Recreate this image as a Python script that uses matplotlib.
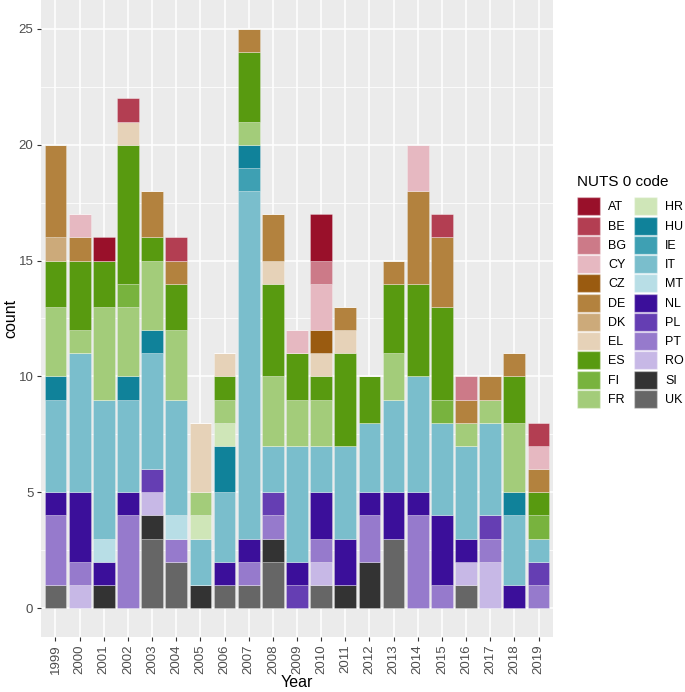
import numpy as np
import matplotlib
matplotlib.use("Agg")
from matplotlib import pyplot as plt
from matplotlib.patches import Patch

plt.rcParams["font.family"] = ["Liberation Sans", "DejaVu Sans"]

years = [str(y) for y in range(1999, 2020)]

# country codes, legend order (first is drawn on top of the stack)
codes = ["AT", "BE", "BG", "CY", "CZ", "DE", "DK", "EL", "ES", "FI", "FR",
         "HR", "HU", "IE", "IT", "MT", "NL", "PL", "PT", "RO", "SI", "UK"]
colors = ["#99102A", "#B33E52", "#CC7A88", "#E6B8C1", "#9A5B10", "#B3823E",
          "#CCAA7A", "#E6D2B8", "#589A10", "#78B33E", "#A3CC7A", "#CFE6B8",
          "#10829A", "#3EA0B3", "#7ABECC", "#B8DEE6", "#3B0F9A", "#653EB3",
          "#967ACC", "#C7B8E6", "#333333", "#666666"]

# counts per year, one list per code (1999 ... 2019)
AT = [0, 0, 1, 0, 0, 0, 0, 0, 0, 0, 0, 2, 0, 0, 0, 0, 0, 0, 0, 0, 0]
BE = [0, 0, 0, 1, 0, 1, 0, 0, 0, 0, 0, 0, 0, 0, 0, 0, 1, 0, 0, 0, 1]
BG = [0, 0, 0, 0, 0, 0, 0, 0, 0, 0, 0, 1, 0, 0, 0, 0, 0, 1, 0, 0, 0]
CY = [0, 1, 0, 0, 0, 0, 0, 0, 0, 0, 1, 2, 0, 0, 0, 2, 0, 0, 0, 0, 1]
CZ = [0, 0, 0, 0, 0, 0, 0, 0, 0, 0, 0, 1, 0, 0, 0, 0, 0, 0, 0, 0, 0]
DE = [4, 1, 0, 0, 2, 1, 0, 0, 1, 2, 0, 0, 1, 0, 1, 4, 3, 1, 1, 1, 1]
DK = [1, 0, 0, 0, 0, 0, 0, 0, 0, 0, 0, 0, 0, 0, 0, 0, 0, 0, 0, 0, 0]
EL = [0, 0, 0, 1, 0, 0, 3, 1, 0, 1, 0, 1, 1, 0, 0, 0, 0, 0, 0, 0, 0]
ES = [2, 3, 2, 6, 1, 2, 0, 1, 3, 4, 2, 1, 4, 2, 3, 4, 4, 0, 0, 2, 1]
FI = [0, 0, 0, 1, 0, 0, 0, 0, 0, 0, 0, 0, 0, 0, 0, 0, 1, 0, 0, 0, 1]
FR = [3, 1, 4, 3, 3, 3, 1, 1, 1, 3, 2, 2, 0, 0, 2, 0, 0, 1, 1, 3, 0]
HR = [0, 0, 0, 0, 0, 0, 1, 1, 0, 0, 0, 0, 0, 0, 0, 0, 0, 0, 0, 0, 0]
HU = [1, 0, 0, 1, 1, 0, 0, 2, 1, 0, 0, 0, 0, 0, 0, 0, 0, 0, 0, 1, 0]
IE = [0, 0, 0, 0, 0, 0, 0, 0, 1, 0, 0, 0, 0, 0, 0, 0, 0, 0, 0, 0, 0]
IT = [4, 6, 6, 4, 5, 5, 2, 3, 15, 2, 5, 2, 4, 3, 4, 5, 4, 4, 4, 3, 1]
MT = [0, 0, 1, 0, 0, 1, 0, 0, 0, 0, 0, 0, 0, 0, 0, 0, 0, 0, 0, 0, 0]
NL = [1, 3, 1, 1, 0, 0, 0, 1, 1, 0, 1, 2, 2, 1, 2, 1, 3, 1, 0, 1, 0]
PL = [0, 0, 0, 0, 1, 0, 0, 0, 0, 1, 1, 0, 0, 0, 0, 0, 0, 0, 1, 0, 1]
PT = [3, 1, 0, 4, 0, 1, 0, 0, 1, 1, 0, 1, 0, 2, 0, 4, 1, 0, 1, 0, 1]
RO = [0, 1, 0, 0, 1, 0, 0, 0, 0, 0, 0, 1, 0, 0, 0, 0, 0, 1, 2, 0, 0]
SI = [0, 0, 1, 0, 1, 0, 1, 0, 0, 1, 0, 0, 1, 2, 0, 0, 0, 0, 0, 0, 0]
UK = [1, 0, 0, 0, 3, 2, 0, 1, 1, 2, 0, 1, 0, 0, 3, 0, 0, 1, 0, 0, 0]

counts = [AT, BE, BG, CY, CZ, DE, DK, EL, ES, FI, FR,
          HR, HU, IE, IT, MT, NL, PL, PT, RO, SI, UK]

fig = plt.figure(figsize=(6.85, 6.92), dpi=100)
ax = fig.add_axes([41 / 685, 1 - 637 / 692, 512 / 685, 637 / 692])
ax.set_facecolor("#EBEBEB")

x = np.arange(1, len(years) + 1)
bottom = np.zeros(len(years))
# stack from the last code (UK) at the bottom up to AT
for code, col, vals in reversed(list(zip(codes, colors, counts))):
    vals = np.array(vals, dtype=float)
    ax.bar(x, vals, width=0.9, bottom=bottom, color=col,
           edgecolor=(1, 1, 1, 0.35), linewidth=0.5, zorder=3)
    bottom += vals

ax.set_xlim(0.4, len(years) + 0.6)
ax.set_ylim(-1.25, 26.25)
ax.set_yticks([0, 5, 10, 15, 20, 25])
ax.set_yticks([2.5, 7.5, 12.5, 17.5, 22.5], minor=True)
ax.set_xticks(x)
ax.set_xticklabels(years, rotation=90)
ax.grid(which="major", color="white", linewidth=1.1, zorder=0)
ax.grid(which="minor", axis="y", color="white", linewidth=0.55, zorder=0)
ax.set_axisbelow(True)
for s in ax.spines.values():
    s.set_visible(False)
ax.tick_params(which="major", length=3, width=0.8, color="#333333",
               labelsize=9.5, labelcolor="#4D4D4D", pad=2.5)
ax.tick_params(which="minor", length=0)
ax.set_xlabel("Year", fontsize=11.5)
ax.set_ylabel("count", fontsize=11.5)
ax.xaxis.set_label_coords(0.5, -0.059)
ax.yaxis.set_label_coords(-0.044, 0.5)

handles = [Patch(facecolor=c, edgecolor=(1, 1, 1, 0.35), label=k)
           for k, c in zip(codes, colors)]
leg = fig.legend(handles=handles, ncol=2, loc="upper left",
                 bbox_to_anchor=(577 / 685, 1 - 175 / 692),
                 frameon=False, fontsize=9, title="NUTS 0 code",
                 title_fontsize=11, handlelength=1.84, handleheight=1.84,
                 handletextpad=0.64, labelspacing=0.1, columnspacing=0.64,
                 borderpad=0.0, borderaxespad=0)
leg._legend_box.align = "left"
leg._legend_box.sep = 6

plt.savefig("out.png", dpi=100)
